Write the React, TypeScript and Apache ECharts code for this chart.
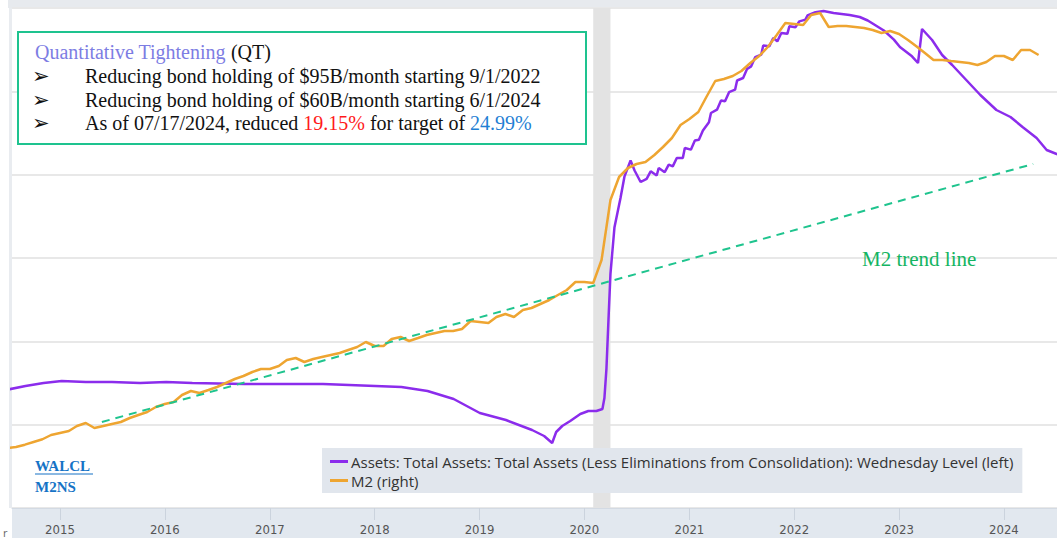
import React, { useEffect, useRef } from "react";
import * as echarts from "echarts";

// WALCL: Fed total assets, billions of USD (weekly, Wednesday)
const walclDates = [
  "2014-07-02", "2014-09-03", "2014-11-05", "2015-01-07", "2015-04-01", "2015-07-01", "2015-10-07",
  "2016-01-06", "2016-04-06", "2016-07-06", "2016-10-05", "2017-01-04", "2017-04-05", "2017-07-05",
  "2017-10-04", "2018-01-03", "2018-04-04", "2018-07-04", "2018-10-03", "2019-01-02", "2019-04-03",
  "2019-07-03", "2019-08-14", "2019-09-11", "2019-09-25", "2019-10-16", "2019-11-13", "2019-12-18",
  "2020-01-15", "2020-02-12", "2020-03-04", "2020-03-11", "2020-03-18", "2020-03-25", "2020-04-01",
  "2020-04-15", "2020-05-06", "2020-05-20", "2020-06-10", "2020-06-24", "2020-07-15",
  "2020-08-05", "2020-08-19", "2020-09-09", "2020-09-16", "2020-10-07", "2020-10-21",
  "2020-11-04", "2020-11-18", "2020-12-09", "2020-12-16", "2021-01-06", "2021-01-20",
  "2021-02-03", "2021-02-17", "2021-03-10", "2021-03-17", "2021-04-07", "2021-04-21",
  "2021-05-05", "2021-05-19", "2021-06-09", "2021-06-16", "2021-07-07", "2021-07-21",
  "2021-08-04", "2021-08-18", "2021-09-08", "2021-09-15", "2021-10-06", "2021-10-20",
  "2021-11-03", "2021-11-17", "2021-12-08", "2021-12-15", "2022-01-05", "2022-01-19",
  "2022-02-09", "2022-02-16", "2022-03-16", "2022-04-13", "2022-05-18", "2022-06-15",
  "2022-07-13", "2022-08-17", "2022-09-14", "2022-10-12", "2022-11-09", "2022-12-14",
  "2023-01-04", "2023-02-15", "2023-03-08", "2023-03-22", "2023-04-26", "2023-05-31",
  "2023-07-05", "2023-08-23", "2023-10-11", "2023-12-06", "2024-01-24", "2024-03-06",
  "2024-04-24", "2024-05-29", "2024-07-03", "2024-07-17",
];
const walclValues = [
  4420, 4464, 4500, 4524, 4512, 4512, 4500,
  4512, 4500, 4494, 4488, 4488, 4488, 4488,
  4476, 4464, 4452, 4404, 4308, 4140, 4056,
  3936, 3864, 3780, 3912, 3984, 4044, 4128,
  4164, 4164, 4188, 4320, 4670, 5250, 5810,
  6370, 6720, 6980, 7170, 7050, 6912,
  6950, 7040, 6990, 7080, 7030, 7120,
  7100, 7200, 7200, 7320, 7300, 7410,
  7420, 7530, 7630, 7740, 7780, 7890,
  7880, 7990, 8020, 8130, 8160, 8270,
  8300, 8410, 8440, 8550, 8540, 8640,
  8600, 8700, 8690, 8780, 8770, 8840,
  8860, 8910, 8950, 8965, 8940, 8928,
  8916, 8892, 8850, 8790, 8730, 8620,
  8532, 8420, 8340, 8748, 8616, 8436,
  8316, 8136, 7956, 7776, 7692, 7572,
  7440, 7296, 7248, 7220,
];

// M2NS: monthly, billions of USD, starting July 2014
const m2StartYear = 2014;
const m2StartMonth = 7;
const m2Values = [
  11440, 11464, 11520, 11584, 11650, 11752,
  11800, 11848, 11968, 12040, 11920, 11968, 12016, 12064, 12160, 12232, 12304, 12424,
  12496, 12544, 12712, 12808, 12760, 12832, 12904, 13000, 13096, 13168, 13264, 13336,
  13336, 13408, 13552, 13600, 13504, 13576, 13624, 13672, 13720, 13792, 13864, 13984,
  13888, 13888, 14056, 14104, 14008, 14080, 14152, 14200, 14248, 14248, 14296, 14488,
  14464, 14440, 14584, 14656, 14584, 14752, 14800, 14896, 14992, 15112, 15232, 15424,
  15424, 15400, 15952, 17392, 17944, 18160, 18256, 18304, 18472, 18664, 18880, 19192,
  19336, 19504, 19864, 20248, 20296, 20368, 20488, 20680, 20848, 21064, 21352, 21640,
  21616, 21592, 21832, 21880, 21544, 21568, 21568, 21544, 21520, 21472, 21400, 21448,
  21376, 21232, 21088, 20920, 20752, 20752, 20728, 20704, 20680, 20632, 20704, 20848,
  20848, 20752, 20992, 20992, 20872,
];

// M2 trend line (on the M2 axis)
const trendDates = ["2015-05-27", "2024-04-12"];
const trendValues = [12064, 18256];

const recessionRange = ["2020-02-01", "2020-04-01"];
const xRange = ["2014-07-18", "2024-07-04"];
const leftAxisRange = [3000, 9000, 1000];
const rightAxisRange = [10000, 22000, 2000];

const seriesNames = [
  "Assets: Total Assets: Total Assets (Less Eliminations from Consolidation): Wednesday Level (left)",
  "M2 (right)",
];

const boxTitle = ["Quantitative Tightening", " (QT)"];
const boxLines = [
  "Reducing bond holding of $95B/month starting 9/1/2022",
  "Reducing bond holding of $60B/month starting 6/1/2024",
];
const boxLast = ["As of 07/17/2024, reduced ", "19.15%", " for target of ", "24.99%"];

const PURPLE = "#8b2cec";
const ORANGE = "#eea531";
const GREEN = "#1fc48e";

function pad(n: number) {
  return n < 10 ? "0" + n : "" + n;
}

export default function App() {
  const ref = useRef<HTMLDivElement>(null);

  useEffect(() => {
    document.body.style.margin = "0";
    if (!ref.current) return;
    const chart = echarts.init(ref.current, null, { renderer: "svg" });

    const walcl = walclDates.map((d, i) => [d, walclValues[i]]);
    const m2 = m2Values.map((v, i) => {
      const t = m2StartMonth - 1 + i;
      const y = m2StartYear + Math.floor(t / 12);
      const m = (t % 12) + 1;
      return [y + "-" + pad(m) + "-01", v];
    });
    const trend = trendDates.map((d, i) => [d, trendValues[i]]);

    const serif = "'Liberation Serif', 'Times New Roman', serif";
    const boxFont = "20px " + serif;
    const arrowFont = "21px 'DejaVu Sans', sans-serif";

    const option: any = {
      animation: false,
      backgroundColor: "#ffffff",
      grid: { left: 12, right: 0, top: 8, bottom: 30, containLabel: false },
      xAxis: {
        type: "time",
        min: xRange[0],
        max: xRange[1],
        minInterval: 365 * 24 * 3600 * 1000,
        splitNumber: 10,
        axisLine: { show: true, lineStyle: { color: "#d3dae3", width: 1 } },
        axisTick: { show: true, length: 12, lineStyle: { color: "#cbd3dd" } },
        splitLine: { show: false },
        axisLabel: {
          formatter: "{yyyy}",
          color: "#555",
          fontSize: 13,
          fontFamily: "'Liberation Sans Narrow', 'DejaVu Sans Condensed', sans-serif",
          margin: 15,
          showMinLabel: false,
          showMaxLabel: false,
        },
      },
      yAxis: [
        {
          type: "value",
          min: leftAxisRange[0],
          max: leftAxisRange[1],
          interval: leftAxisRange[2],
          axisLabel: { show: false },
          axisLine: { show: false },
          axisTick: { show: false },
          splitLine: { show: true, lineStyle: { color: "#e8e8e8", width: 2 } },
        },
        {
          type: "value",
          min: rightAxisRange[0],
          max: rightAxisRange[1],
          interval: rightAxisRange[2],
          axisLabel: { show: false },
          axisLine: { show: false },
          axisTick: { show: false },
          splitLine: { show: false },
        },
      ],
      legend: {
        data: seriesNames,
        orient: "vertical",
        left: 322,
        top: 448,
        backgroundColor: "#e1e6ed",
        padding: [6, 9, 5, 8],
        itemGap: 4,
        itemWidth: 18,
        itemHeight: 3,
        icon: "rect",
        selectedMode: false,
        textStyle: {
          color: "#333",
          fontSize: 15,
          lineHeight: 15,
          fontFamily: "'Open Sans', sans-serif",
          padding: [0, 0, 0, -2],
        },
      },
      series: [
        {
          name: seriesNames[0],
          type: "line",
          yAxisIndex: 0,
          data: walcl,
          showSymbol: false,
          symbol: "none",
          lineStyle: { color: PURPLE, width: 2.5 },
          itemStyle: { color: PURPLE },
          z: 2,
          markArea: {
            silent: true,
            itemStyle: { color: "#e3e3e3" },
            data: [[{ xAxis: recessionRange[0] }, { xAxis: recessionRange[1] }]],
          },
        },
        {
          name: seriesNames[1],
          type: "line",
          yAxisIndex: 1,
          data: m2,
          showSymbol: false,
          symbol: "none",
          lineStyle: { color: ORANGE, width: 2.5 },
          itemStyle: { color: ORANGE },
          z: 3,
        },
        {
          name: "M2 trend",
          type: "line",
          yAxisIndex: 1,
          data: trend,
          showSymbol: false,
          symbol: "none",
          lineStyle: { color: GREEN, width: 2, type: [8, 6] },
          itemStyle: { color: GREEN },
          z: 4,
        },
      ],
      graphic: [
        { type: "rect", z: -1, shape: { x: 8, y: 0, width: 1049, height: 8 }, style: { fill: "#e7eaee" } },
        { type: "rect", z: -1, shape: { x: 9, y: 8, width: 3, height: 500 }, style: { fill: "#e9ecf0" } },
        { type: "rect", z: -1, shape: { x: 12, y: 508, width: 1045, height: 30 }, style: { fill: "#e2e8ef" } },
        {
          type: "rect",
          z: 50,
          shape: { x: 18, y: 32, width: 568, height: 112 },
          style: { fill: "#ffffff", stroke: "#1ec38f", lineWidth: 2 },
        },
        {
          type: "text",
          z: 51,
          x: 35,
          y: 52,
          style: {
            text: "{q|" + boxTitle[0] + "}{k|" + boxTitle[1] + "}",
            font: boxFont,
            verticalAlign: "middle",
            rich: {
              q: { fill: "#7d7de3", font: boxFont },
              k: { fill: "#111111", font: boxFont },
            },
          },
        },
        { type: "text", z: 51, x: 32, y: 76, style: { text: "➢", font: arrowFont, fill: "#111", verticalAlign: "middle" } },
        { type: "text", z: 51, x: 32, y: 100, style: { text: "➢", font: arrowFont, fill: "#111", verticalAlign: "middle" } },
        { type: "text", z: 51, x: 32, y: 123, style: { text: "➢", font: arrowFont, fill: "#111", verticalAlign: "middle" } },
        { type: "text", z: 51, x: 85, y: 76, style: { text: boxLines[0], font: boxFont, fill: "#111", verticalAlign: "middle" } },
        { type: "text", z: 51, x: 85, y: 100, style: { text: boxLines[1], font: boxFont, fill: "#111", verticalAlign: "middle" } },
        {
          type: "text",
          z: 51,
          x: 85,
          y: 123,
          style: {
            text: "{k|" + boxLast[0] + "}{r|" + boxLast[1] + "}{k|" + boxLast[2] + "}{b|" + boxLast[3] + "}",
            font: boxFont,
            verticalAlign: "middle",
            rich: {
              k: { fill: "#111111", font: boxFont },
              r: { fill: "#ff1a1a", font: boxFont },
              b: { fill: "#1f7fd4", font: boxFont },
            },
          },
        },
        {
          type: "text",
          z: 51,
          x: 862,
          y: 259,
          style: { text: "M2 trend line", font: "21px " + serif, fill: "#14b562", verticalAlign: "middle" },
        },
        {
          type: "text",
          z: 51,
          x: 35,
          y: 466,
          style: { text: "WALCL", font: "bold 15px " + serif, fill: "#1673c6", verticalAlign: "middle" },
        },
        { type: "line", z: 51, shape: { x1: 35, y1: 474, x2: 93, y2: 474 }, style: { stroke: "#1673c6", lineWidth: 1.2 } },
        {
          type: "text",
          z: 51,
          x: 35,
          y: 487,
          style: { text: "M2NS", font: "bold 15px " + serif, fill: "#1673c6", verticalAlign: "middle" },
        },
        {
          type: "text",
          z: 51,
          x: 3,
          y: 532,
          style: { text: "r", font: "11px 'Open Sans', sans-serif", fill: "#666", verticalAlign: "middle" },
        },
      ],
    };

    chart.setOption(option);
    return () => chart.dispose();
  }, []);

  return <div ref={ref} style={{ width: 1057, height: 538 }} />;
}
